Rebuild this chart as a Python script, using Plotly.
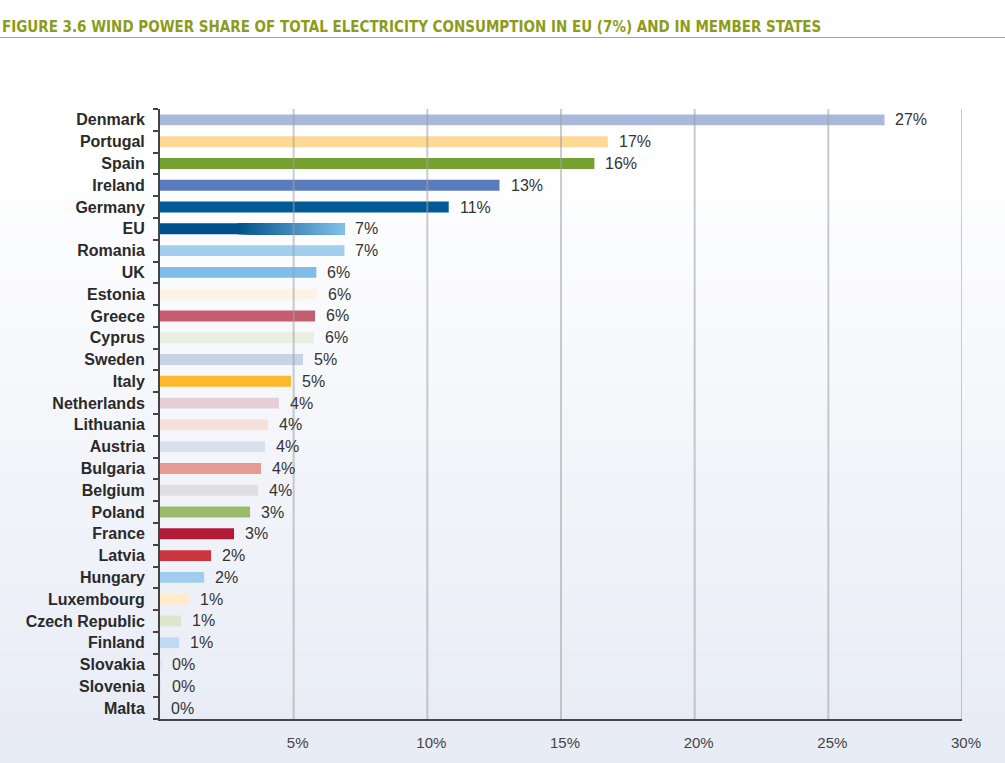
import plotly.graph_objects as go

# ---------------- data ----------------
countries = ["Denmark", "Portugal", "Spain", "Ireland", "Germany", "EU", "Romania", "UK",
             "Estonia", "Greece", "Cyprus", "Sweden", "Italy", "Netherlands", "Lithuania",
             "Austria", "Bulgaria", "Belgium", "Poland", "France", "Latvia", "Hungary",
             "Luxembourg", "Czech Republic", "Finland", "Slovakia", "Slovenia", "Malta"]
shares = [27.1, 16.75, 16.25, 12.7, 10.8, 6.9, 6.9, 5.85,
          5.87, 5.8, 5.76, 5.35, 4.9, 4.45, 4.04,
          3.93, 3.78, 3.67, 3.37, 2.77, 1.91, 1.65,
          1.08, 0.79, 0.71, 0.04, 0.03, 0.0]
labels = ["27%", "17%", "16%", "13%", "11%", "7%", "7%", "6%",
          "6%", "6%", "6%", "5%", "5%", "4%", "4%",
          "4%", "4%", "4%", "3%", "3%", "2%", "2%",
          "1%", "1%", "1%", "0%", "0%", "0%"]
colors = ["#a9b9dc", "#fdd995", "#77a033", "#5b7bbf", "#005a96", "rgba(0,0,0,0)", "#a2cfee", "#7dbde8",
          "#fdf3e4", "#c45e6e", "#e9efe2", "#c9d3e8", "#fdb92e", "#e6ced6", "#f5e0dc",
          "#d9e0ee", "#e79b90", "#dfdfe1", "#9cbb6a", "#b11b38", "#cb363e", "#a0cdee",
          "#fdebcc", "#dde6cc", "#bcdaf2", "#dfe6f0", "#dfe6f0", "#dfe6f0"]
x_ticks = [5, 10, 15, 20, 25, 30]
x_tick_text = ["5%", "10%", "15%", "20%", "25%", "30%"]
title_text = "FIGURE 3.6 WIND POWER SHARE OF TOTAL ELECTRICITY CONSUMPTION IN EU (7%) AND IN MEMBER STATES"

# ---------------- figure ----------------
fig = go.Figure()

fig.add_trace(go.Bar(
    y=countries, x=shares, orientation="h",
    marker=dict(color=colors, line=dict(width=0)),
    width=0.5, hoverinfo="x+y", showlegend=False,
))

# EU bar drawn as a gradient made of overlapping segments
def hex2rgb(h):
    h = h.lstrip("#")
    return tuple(int(h[i:i + 2], 16) for i in (0, 2, 4))

eu_val = shares[countries.index("EU")]
c0, c1 = hex2rgb("#00508c"), hex2rgb("#82c2ea")
start_frac = 0.42
n_seg = 50
seg_base = [0.0]
seg_len = [eu_val]
seg_col = ["#00508c"]
for i in range(n_seg):
    f0 = start_frac + (1 - start_frac) * i / n_seg
    t = (i + 0.5) / n_seg
    rgb = tuple(round(c0[k] + (c1[k] - c0[k]) * t) for k in range(3))
    seg_base.append(eu_val * f0)
    seg_len.append(eu_val * (1 - f0))
    seg_col.append("rgb(%d,%d,%d)" % rgb)
fig.add_trace(go.Bar(
    y=["EU"] * len(seg_len), x=seg_len, base=seg_base, orientation="h",
    marker=dict(color=seg_col, line=dict(width=0)), width=0.5,
    hoverinfo="skip", showlegend=False,
))

# value labels
for c, v, lab in zip(countries, shares, labels):
    fig.add_annotation(x=v, y=c, text=lab, xanchor="left", yanchor="middle",
                       xshift=9, showarrow=False,
                       font=dict(family="Liberation Sans, Arial, sans-serif", size=16, color="#333333"))

# background gradient (white to pale blue) as paper stripes
H, W = 763, 1005
t_m, b_m, l_m, r_m = 109, 44, 160, 43
ph = H - t_m - b_m
pw = W - l_m - r_m
def py(pix):
    return (H - b_m - pix) / ph
top_col, bot_col = (255, 255, 255), (231, 235, 245)
g_start = 150
n_str = 60
for i in range(n_str):
    y0p = g_start + (H - g_start) * i / n_str
    y1p = g_start + (H - g_start) * (i + 1) / n_str + 1
    t = (i + 0.5) / n_str
    rgb = tuple(round(top_col[k] + (bot_col[k] - top_col[k]) * t) for k in range(3))
    fig.add_shape(type="rect", xref="paper", yref="paper",
                  x0=-l_m / pw, x1=(W - l_m) / pw, y0=py(y1p), y1=py(y0p),
                  fillcolor="rgb(%d,%d,%d)" % rgb, line=dict(width=0), layer="below")

# vertical grid lines drawn above bars
for xv in x_ticks:
    fig.add_shape(type="line", xref="x", yref="paper", x0=xv, x1=xv, y0=0, y1=1,
                  line=dict(color="rgba(160,160,160,0.55)", width=2), layer="above")

# title and rule
fig.add_annotation(xref="paper", yref="paper", x=-l_m / pw, y=py(27), xanchor="left", yanchor="middle",
                   text="<b>" + title_text + "</b>", showarrow=False,
                   font=dict(family="Liberation Sans Narrow, Arial Narrow, DejaVu Sans Condensed, sans-serif",
                             size=15, color="#8c9c1a"))
fig.add_shape(type="line", xref="paper", yref="paper", x0=-l_m / pw, x1=(W - l_m) / pw,
              y0=py(37.5), y1=py(37.5), line=dict(color="#8ea3c8", width=1))

fig.update_layout(
    width=W, height=H,
    margin=dict(l=l_m, r=r_m, t=t_m, b=b_m),
    paper_bgcolor="white", plot_bgcolor="rgba(0,0,0,0)",
    barmode="overlay", bargap=0.5,
    showlegend=False,
    xaxis=dict(range=[0, 30], tickvals=x_ticks, ticktext=x_tick_text,
               showgrid=False, zeroline=False, showline=True, linecolor="#444444", linewidth=2,
               ticks="", ticklabelstandoff=9, ticklabelshift=4,
               tickfont=dict(family="Liberation Sans, Arial, sans-serif", size=15, color="#444444")),
    yaxis=dict(categoryorder="array", categoryarray=countries[::-1],
               showgrid=False, zeroline=False, showline=True, linecolor="#444444", linewidth=2,
               ticks="outside", tickson="boundaries", ticklen=5, tickwidth=2, tickcolor="#444444",
               ticklabelstandoff=10,
               tickfont=dict(family="Liberation Sans, Arial, sans-serif", size=16, color="#2a2a2a",
                             weight="bold")),
)

fig.write_html("out.html", config={"displayModeBar": False},
               post_script="document.body.style.margin='0';document.body.style.overflow='hidden';")
